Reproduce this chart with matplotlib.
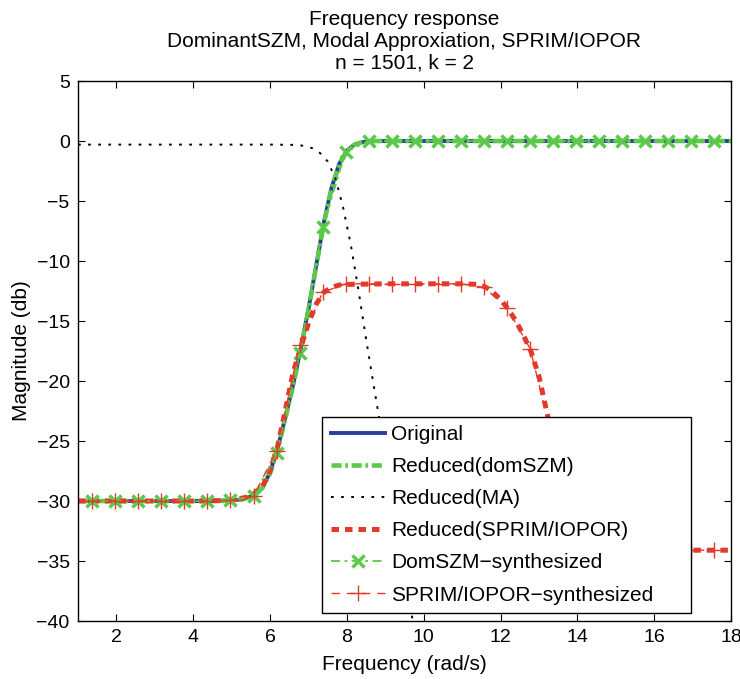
import numpy as np
import matplotlib
matplotlib.use("Agg")
import matplotlib.pyplot as plt

plt.rcParams['font.family'] = ['Liberation Sans', 'DejaVu Sans']

# original system and domSZM reduction (share one frequency grid)
freq = [1.0, 2.0, 3.0, 4.0, 4.5, 5.0, 5.3, 5.6, 5.8, 6.0, 6.2, 6.4, 6.6, 6.8,
        7.0, 7.2, 7.4, 7.6, 7.8, 8.0, 8.2, 8.4, 8.6, 10.0, 12.0, 14.0, 16.0, 18.0]
mag_original = [-30.0, -30.0, -30.0, -30.0, -30.0, -29.95, -29.85, -29.5, -28.9,
                -27.6, -25.6, -23.0, -20.3, -17.3, -14.0, -10.4, -6.8, -3.9,
                -1.9, -0.8, -0.3, -0.1, 0.0, 0.0, 0.0, 0.0, 0.0, 0.0]
mag_domszm = [-30.0, -30.0, -30.0, -30.0, -30.0, -29.95, -29.85, -29.5, -28.9,
              -27.7, -25.7, -23.1, -20.4, -17.4, -14.1, -10.5, -6.9, -4.0,
              -2.0, -0.85, -0.3, -0.1, 0.0, 0.0, 0.0, 0.0, 0.0, 0.0]

# modal approximation
freq_ma = [1.0, 6.0, 6.6, 6.9, 7.1, 7.3, 7.5, 7.7, 7.9, 8.1, 8.3, 8.5, 8.7,
           8.9, 9.1, 9.3, 9.5, 9.7, 9.85]
mag_ma = [-0.3, -0.3, -0.32, -0.4, -0.6, -1.0, -1.7, -3.1, -5.5, -8.6, -12.4,
          -16.5, -20.4, -24.2, -28.0, -31.8, -35.7, -39.7, -42.5]

# SPRIM/IOPOR reduction
freq_sprim = [1.0, 4.0, 5.0, 5.5, 5.8, 6.0, 6.2, 6.4, 6.6, 6.8, 7.0, 7.2, 7.4,
              7.6, 7.8, 8.0, 9.0, 10.0, 11.0, 11.4, 11.6, 11.8, 12.0, 12.2,
              12.4, 12.6, 12.8, 13.0, 13.2, 13.4, 13.6, 13.8, 14.0, 14.3, 14.7,
              15.2, 16.0, 18.0]
mag_sprim = [-30.0, -30.0, -29.95, -29.6, -28.8, -27.5, -25.4, -22.4, -19.3,
             -17.2, -15.2, -13.6, -12.6, -12.2, -12.0, -11.95, -11.9, -11.9,
             -11.9, -11.95, -12.15, -12.6, -13.2, -14.0, -15.0, -16.2, -17.6,
             -19.6, -22.5, -25.5, -28.5, -30.9, -32.5, -33.5, -33.9, -34.05,
             -34.1, -34.1]

# synthesized circuits, evaluated at the sampled frequencies
freq_syn = [1.37, 1.97, 2.57, 3.17, 3.77, 4.37, 4.97, 5.57, 6.17, 6.77, 7.37,
            7.97, 8.57, 9.17, 9.77, 10.37, 10.97, 11.57, 12.17, 12.77, 13.37,
            13.97, 14.57, 15.17, 15.77, 16.37, 16.97, 17.57]
mag_domszm_syn = [-30.0, -30.0, -30.0, -30.0, -30.0, -30.0, -29.95, -29.6,
                  -26.0, -17.7, -7.2, -0.9, 0.0, 0.0, 0.0, 0.0, 0.0, 0.0, 0.0,
                  0.0, 0.0, 0.0, 0.0, 0.0, 0.0, 0.0, 0.0, 0.0]
mag_sprim_syn = [-30.0, -30.0, -30.0, -30.0, -30.0, -30.0, -29.95, -29.6,
                 -25.8, -17.0, -12.6, -11.9, -11.9, -11.9, -11.9, -11.9, -11.9,
                 -12.2, -13.9, -17.3, -25.0, -32.5, -33.8, -34.05, -34.1, -34.1,
                 -34.1, -34.1]

blue = '#2b3d9c'
green = '#5cc94a'
red = '#e3392b'

fig = plt.figure(figsize=(7.40, 6.79), dpi=100)
ax = fig.add_axes([0.1054, 0.0854, 0.8824, 0.7953])

ax.plot(freq, mag_original, color=blue, lw=2.8, label='Original')
ax.plot(freq, mag_domszm, color=green, lw=3.3, dashes=(2.2, 0.8, 0.6, 0.8),
        label='Reduced(domSZM)')
ax.plot(freq_ma, mag_ma, color='black', lw=1.4, dashes=(1.4, 3.8),
        label='Reduced(MA)')
ax.plot(freq_sprim, mag_sprim, color=red, lw=3.6, dashes=(1.5, 1.2),
        label='Reduced(SPRIM/IOPOR)')
ax.plot(freq_syn, mag_domszm_syn, color=green, lw=1.3,
        dashes=(5, 2.5, 1.5, 2.5), marker='x', ms=9, mew=2.5,
        label='DomSZM\u2212synthesized')
ax.plot(freq_syn, mag_sprim_syn, color=red, lw=1.0, dashes=(6, 5),
        marker='+', ms=12, mew=1.0,
        label='SPRIM/IOPOR\u2212synthesized')

ax.set_xlim(1, 18)
ax.set_ylim(-40, 5)
ax.set_xticks(np.arange(2, 19, 2))
ax.set_yticks(np.arange(-40, 6, 5))
ax.tick_params(direction='in', top=True, right=True, length=5, width=0.8,
               labelsize=14, pad=6)
for s in ax.spines.values():
    s.set_linewidth(1.0)

ax.set_xlabel('Frequency (rad/s)', fontsize=15, labelpad=6)
ax.set_ylabel('Magnitude (db)', fontsize=15, labelpad=4)
ax.set_title('Frequency response\nDominantSZM, Modal Approxiation, SPRIM/IOPOR\n'
             'n = 1501, k = 2', fontsize=15, linespacing=1.2, pad=9)

leg = ax.legend(loc='lower left', bbox_to_anchor=(0.374, 0.015, 0.565, 0.37),
                mode='expand', borderaxespad=0, fontsize=15, fancybox=False,
                framealpha=1, edgecolor='black', handlelength=2.6,
                handletextpad=0.3, labelspacing=0.63, borderpad=0.4)
leg.get_frame().set_linewidth(1.0)
leg.set_zorder(5)

fig.savefig('out.png', dpi=100)
